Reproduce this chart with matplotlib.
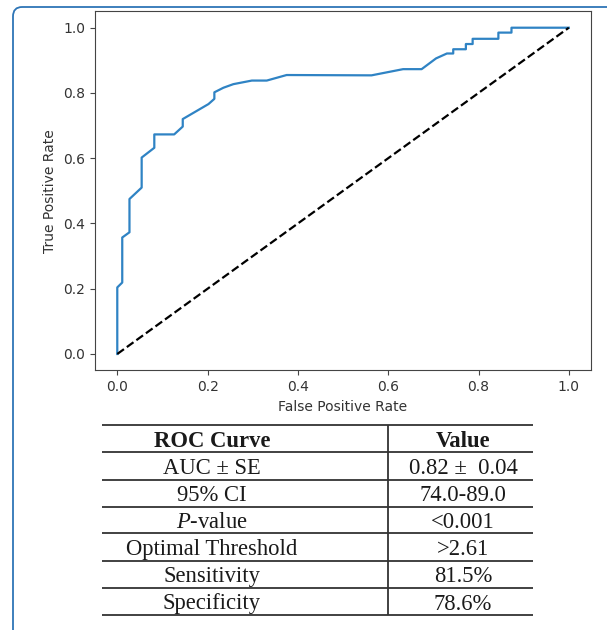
import matplotlib
matplotlib.use("Agg")
import matplotlib.pyplot as plt
from matplotlib.patches import FancyBboxPatch

plt.rcParams['mathtext.fontset'] = 'custom'
plt.rcParams['mathtext.rm'] = 'Liberation Serif'
plt.rcParams['mathtext.it'] = 'Liberation Serif:italic'

# ROC curve
fpr = [0.0, 0.0, 0.011, 0.011, 0.027, 0.027, 0.054, 0.054, 0.082, 0.082,
       0.126, 0.145, 0.145, 0.202, 0.215, 0.215, 0.235, 0.257, 0.298, 0.331,
       0.375, 0.563, 0.633, 0.674, 0.706, 0.730, 0.744, 0.744, 0.772, 0.772,
       0.787, 0.787, 0.844, 0.844, 0.873, 0.873, 1.0]
tpr = [0.0, 0.204, 0.219, 0.357, 0.373, 0.475, 0.510, 0.602, 0.632, 0.673,
       0.673, 0.697, 0.720, 0.766, 0.782, 0.802, 0.816, 0.827, 0.838, 0.838,
       0.855, 0.854, 0.873, 0.873, 0.906, 0.921, 0.921, 0.934, 0.934, 0.950,
       0.950, 0.966, 0.966, 0.985, 0.985, 1.0, 1.0]
ticks = [0.0, 0.2, 0.4, 0.6, 0.8, 1.0]

# summary table
row_names = ['ROC Curve', 'AUC ± SE', '95% CI', r'$\it{P}$-value',
             'Optimal Threshold', 'Sensitivity', 'Specificity']
row_values = ['Value', '0.82 ±  0.04', '74.0-89.0', '<0.001', '>2.61',
              '81.5%', '78.6%']

W, H = 607, 630
fig = plt.figure(figsize=(W / 100, H / 100), dpi=100)

# blue frame round the whole panel
frame = FancyBboxPatch((13 / W, -0.2), 1.2, 1.2 - 7 / H + 0.0,
                       boxstyle="round,pad=0,rounding_size=0.015",
                       transform=fig.transFigure, fill=False,
                       edgecolor='#2e75b6', linewidth=1.3)
fig.patches.append(frame)

ax = fig.add_axes([94.7 / W, (H - 370.3) / H, 496.7 / W, 358.9 / H])
ax.plot(fpr, tpr, color='#2f83c4', lw=1.6)
ax.plot([0, 1], [0, 1], 'k--', lw=1.6)
ax.set_xticks(ticks)
ax.set_yticks(ticks)
ax.set_xlabel('False Positive Rate', color='#333333')
ax.set_ylabel('True Positive Rate', color='#333333')
ax.tick_params(colors='#444444', labelcolor='#333333')
for s in ax.spines.values():
    s.set_color('#444444')

# table drawn in pixel coordinates
tab = fig.add_axes([0, 0, 1, 1])
tab.set_xlim(0, W)
tab.set_ylim(H, 0)
tab.axis('off')
lines_y = [425, 452.3, 480, 506.7, 533.3, 560.7, 587.7, 615]
tab.hlines(lines_y, 101.7, 533.3, color='#333333', lw=1.3)
tab.vlines(388.3, 425, 615, color='#333333', lw=1.3)
for i, (name, val) in enumerate(zip(row_names, row_values)):
    yb = lines_y[i + 1] - 5.5
    w = 'bold' if i == 0 else 'normal'
    tab.text(212, yb, name, ha='center', va='baseline', fontsize=16.3,
             family='Liberation Serif', weight=w, color='#1a1a1a')
    tab.text(463, yb, val, ha='center', va='baseline', fontsize=16.3,
             family='Liberation Serif', weight=w, color='#1a1a1a')

fig.savefig('out.png', dpi=100)
